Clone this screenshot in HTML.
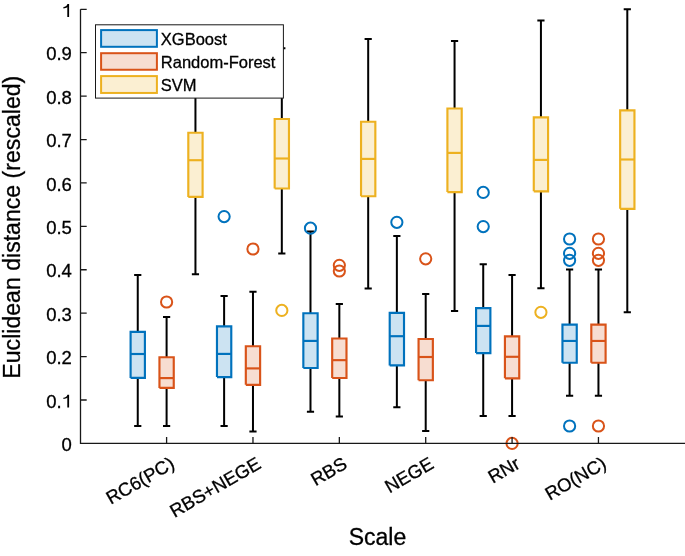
<!DOCTYPE html>
<html><head><meta charset="utf-8"><style>
html,body{margin:0;padding:0;background:#fff;}
body{width:685px;height:556px;overflow:hidden;}
svg{display:block;font-family:"Liberation Sans",sans-serif;will-change:transform;}
text{stroke:#000;stroke-width:0.3px;}
</style></head><body>
<svg width="685" height="556" viewBox="0 0 685 556">
<rect width="685" height="556" fill="#fff"/>
<g stroke="#000" stroke-width="2.0" fill="none"><path d="M137.75 274.9V331.8M137.75 377.9V426M134.15 274.9H141.35M134.15 426H141.35"/><path d="M166.6 317.1V357.2M166.6 387.9V426M163 317.1H170.2M163 426H170.2"/><path d="M195.45 60V132.7M195.45 196.9V274.3M191.85 60H199.05M191.85 274.3H199.05"/><path d="M224.12 296V326.3M224.12 377.1V426M220.52 296H227.72M220.52 426H227.72"/><path d="M252.97 291.8V346.2M252.97 384.8V431.4M249.37 291.8H256.57M249.37 431.4H256.57"/><path d="M281.82 48.3V119M281.82 188.5V253.5M278.22 48.3H285.42M278.22 253.5H285.42"/><path d="M310.49 231.4V313.2M310.49 368V411.8M306.89 231.4H314.09M306.89 411.8H314.09"/><path d="M339.34 304.1V338.5M339.34 378V416.4M335.74 304.1H342.94M335.74 416.4H342.94"/><path d="M368.19 38.9V121.7M368.19 196.2V288.6M364.59 38.9H371.79M364.59 288.6H371.79"/><path d="M396.86 236.1V312.9M396.86 365.4V407.3M393.26 236.1H400.46M393.26 407.3H400.46"/><path d="M425.71 293.9V339M425.71 380.2V431.1M422.11 293.9H429.31M422.11 431.1H429.31"/><path d="M454.56 41V108.5M454.56 192.1V311.1M450.96 41H458.16M450.96 311.1H458.16"/><path d="M483.23 264.3V308.1M483.23 353.1V416M479.63 264.3H486.83M479.63 416H486.83"/><path d="M512.08 274.9V336.3M512.08 378.3V416M508.48 274.9H515.68M508.48 416H515.68"/><path d="M540.93 20.4V117.3M540.93 191.3V288.3M537.33 20.4H544.53M537.33 288.3H544.53"/><path d="M569.6 269.6V324.6M569.6 362.7V395.8M566 269.6H573.2M566 395.8H573.2"/><path d="M598.45 269.6V324.6M598.45 362.7V395.8M594.85 269.6H602.05M594.85 395.8H602.05"/><path d="M627.3 9.3V110.3M627.3 208.8V312.3M623.7 9.3H630.9M623.7 312.3H630.9"/></g>
<g stroke-width="2.15"><rect x="130.6" y="331.8" width="14.3" height="46.1" fill="#CCE3F2"/><path d="M130.6 377.9V331.8H144.9V377.9H130.6" fill="none" stroke="#0072BD"/><path d="M130.6 354H144.9" stroke="#0072BD"/><rect x="159.45" y="357.2" width="14.3" height="30.7" fill="#F7DDD1"/><path d="M159.45 387.9V357.2H173.75V387.9H159.45" fill="none" stroke="#D95319"/><path d="M159.45 378.1H173.75" stroke="#D95319"/><rect x="188.3" y="132.7" width="14.3" height="64.2" fill="#FBEFD2"/><path d="M188.3 196.9V132.7H202.6V196.9H188.3" fill="none" stroke="#EDB120"/><path d="M188.3 160.2H202.6" stroke="#EDB120"/><rect x="216.97" y="326.3" width="14.3" height="50.8" fill="#CCE3F2"/><path d="M216.97 377.1V326.3H231.27V377.1H216.97" fill="none" stroke="#0072BD"/><path d="M216.97 353.9H231.27" stroke="#0072BD"/><rect x="245.82" y="346.2" width="14.3" height="38.6" fill="#F7DDD1"/><path d="M245.82 384.8V346.2H260.12V384.8H245.82" fill="none" stroke="#D95319"/><path d="M245.82 368.4H260.12" stroke="#D95319"/><rect x="274.67" y="119" width="14.3" height="69.5" fill="#FBEFD2"/><path d="M274.67 188.5V119H288.97V188.5H274.67" fill="none" stroke="#EDB120"/><path d="M274.67 158.5H288.97" stroke="#EDB120"/><rect x="303.34" y="313.2" width="14.3" height="54.8" fill="#CCE3F2"/><path d="M303.34 368V313.2H317.64V368H303.34" fill="none" stroke="#0072BD"/><path d="M303.34 340.9H317.64" stroke="#0072BD"/><rect x="332.19" y="338.5" width="14.3" height="39.5" fill="#F7DDD1"/><path d="M332.19 378V338.5H346.49V378H332.19" fill="none" stroke="#D95319"/><path d="M332.19 360.15H346.49" stroke="#D95319"/><rect x="361.04" y="121.7" width="14.3" height="74.5" fill="#FBEFD2"/><path d="M361.04 196.2V121.7H375.34V196.2H361.04" fill="none" stroke="#EDB120"/><path d="M361.04 158.9H375.34" stroke="#EDB120"/><rect x="389.71" y="312.9" width="14.3" height="52.5" fill="#CCE3F2"/><path d="M389.71 365.4V312.9H404.01V365.4H389.71" fill="none" stroke="#0072BD"/><path d="M389.71 336.2H404.01" stroke="#0072BD"/><rect x="418.56" y="339" width="14.3" height="41.2" fill="#F7DDD1"/><path d="M418.56 380.2V339H432.86V380.2H418.56" fill="none" stroke="#D95319"/><path d="M418.56 357H432.86" stroke="#D95319"/><rect x="447.41" y="108.5" width="14.3" height="83.6" fill="#FBEFD2"/><path d="M447.41 192.1V108.5H461.71V192.1H447.41" fill="none" stroke="#EDB120"/><path d="M447.41 152.9H461.71" stroke="#EDB120"/><rect x="476.08" y="308.1" width="14.3" height="45" fill="#CCE3F2"/><path d="M476.08 353.1V308.1H490.38V353.1H476.08" fill="none" stroke="#0072BD"/><path d="M476.08 325.9H490.38" stroke="#0072BD"/><rect x="504.93" y="336.3" width="14.3" height="42" fill="#F7DDD1"/><path d="M504.93 378.3V336.3H519.23V378.3H504.93" fill="none" stroke="#D95319"/><path d="M504.93 356.8H519.23" stroke="#D95319"/><rect x="533.78" y="117.3" width="14.3" height="74" fill="#FBEFD2"/><path d="M533.78 191.3V117.3H548.08V191.3H533.78" fill="none" stroke="#EDB120"/><path d="M533.78 159.9H548.08" stroke="#EDB120"/><rect x="562.45" y="324.6" width="14.3" height="38.1" fill="#CCE3F2"/><path d="M562.45 362.7V324.6H576.75V362.7H562.45" fill="none" stroke="#0072BD"/><path d="M562.45 340.95H576.75" stroke="#0072BD"/><rect x="591.3" y="324.6" width="14.3" height="38.1" fill="#F7DDD1"/><path d="M591.3 362.7V324.6H605.6V362.7H591.3" fill="none" stroke="#D95319"/><path d="M591.3 340.95H605.6" stroke="#D95319"/><rect x="620.15" y="110.3" width="14.3" height="98.5" fill="#FBEFD2"/><path d="M620.15 208.8V110.3H634.45V208.8H620.15" fill="none" stroke="#EDB120"/><path d="M620.15 159.5H634.45" stroke="#EDB120"/></g>
<g fill="none" stroke-width="2.0"><circle cx="166.6" cy="302" r="5.6" stroke="#D95319"/><circle cx="224.12" cy="216.6" r="5.6" stroke="#0072BD"/><circle cx="252.97" cy="249" r="5.6" stroke="#D95319"/><circle cx="281.82" cy="310.4" r="5.6" stroke="#EDB120"/><circle cx="310.49" cy="228.2" r="5.6" stroke="#0072BD"/><circle cx="339.34" cy="265.3" r="5.6" stroke="#D95319"/><circle cx="339.34" cy="271" r="5.6" stroke="#D95319"/><circle cx="396.86" cy="222.3" r="5.6" stroke="#0072BD"/><circle cx="425.71" cy="258.85" r="5.6" stroke="#D95319"/><circle cx="483.23" cy="192.4" r="5.6" stroke="#0072BD"/><circle cx="483.23" cy="226.6" r="5.6" stroke="#0072BD"/><circle cx="512.08" cy="443.4" r="5.6" stroke="#D95319"/><circle cx="540.93" cy="312.3" r="5.6" stroke="#EDB120"/><circle cx="569.6" cy="239" r="5.6" stroke="#0072BD"/><circle cx="569.6" cy="253.3" r="5.6" stroke="#0072BD"/><circle cx="569.6" cy="260.3" r="5.6" stroke="#0072BD"/><circle cx="569.6" cy="426" r="5.6" stroke="#0072BD"/><circle cx="598.45" cy="239" r="5.6" stroke="#D95319"/><circle cx="598.45" cy="253.3" r="5.6" stroke="#D95319"/><circle cx="598.45" cy="260.3" r="5.6" stroke="#D95319"/><circle cx="598.45" cy="426" r="5.6" stroke="#D95319"/></g>
<path d="M80.5 9.3V443.4H685" fill="none" stroke="#181818" stroke-width="1.3"/>
<path d="M80.5 399.99H86.7 M80.5 356.58H86.7 M80.5 313.17H86.7 M80.5 269.76H86.7 M80.5 226.35H86.7 M80.5 182.94H86.7 M80.5 139.53H86.7 M80.5 96.12H86.7 M80.5 52.71H86.7 M80.5 9.3H86.7 M166.6 443.4V437 M252.97 443.4V437 M339.34 443.4V437 M425.71 443.4V437 M512.08 443.4V437 M598.45 443.4V437" fill="none" stroke="#181818" stroke-width="1.3"/>
<g font-size="18.5" fill="#000"><text x="71.9" y="451.1" text-anchor="end">0</text><text x="61.6" y="407.69" text-anchor="end">0.</text><path transform="translate(0 399.99)" d="M69.1 -5.3V7.6H67.3V-2.4C66.4 -1.4 65 -1.0 63.4 -0.9V-2.3C65.6 -2.5 67 -3.6 67.4 -5.3Z"/><text x="71.9" y="364.28" text-anchor="end">0.2</text><text x="71.9" y="320.87" text-anchor="end">0.3</text><text x="71.9" y="277.46" text-anchor="end">0.4</text><text x="71.9" y="234.05" text-anchor="end">0.5</text><text x="71.9" y="190.64" text-anchor="end">0.6</text><text x="71.9" y="147.23" text-anchor="end">0.7</text><text x="71.9" y="103.82" text-anchor="end">0.8</text><text x="71.9" y="60.41" text-anchor="end">0.9</text><path transform="translate(0 9.3)" d="M69.1 -5.3V7.6H67.3V-2.4C66.4 -1.4 65 -1.0 63.4 -0.9V-2.3C65.6 -2.5 67 -3.6 67.4 -5.3Z"/><text transform="translate(169 455.6) rotate(-30)" text-anchor="end" y="13.5">RC6(PC)</text><text transform="translate(255.37 455.6) rotate(-30)" text-anchor="end" y="13.5">RBS+NEGE</text><text transform="translate(341.74 455.6) rotate(-30)" text-anchor="end" y="13.5">RBS</text><text transform="translate(428.11 455.6) rotate(-30)" text-anchor="end" y="13.5">NEGE</text><text transform="translate(514.48 455.6) rotate(-30)" text-anchor="end" y="13.5">RNr</text><text transform="translate(600.85 455.6) rotate(-30)" text-anchor="end" y="13.5">RO(NC)</text></g>
<rect x="95.5" y="24.8" width="187.9" height="73.3" fill="#fff" stroke="#181818" stroke-width="1"/>
<rect x="101.1" y="30.1" width="55.8" height="16.7" fill="#CCE3F2" stroke="#0072BD" stroke-width="2"/>
<rect x="101.1" y="53.2" width="55.8" height="16.55" fill="#F7DDD1" stroke="#D95319" stroke-width="2"/>
<rect x="101.1" y="76.1" width="55.8" height="16.85" fill="#FBEFD2" stroke="#EDB120" stroke-width="2"/>
<g font-size="16.5"><text x="160.8" y="45.1">XGBoost</text><text x="160.8" y="68.3">Random-Forest</text><text x="160.8" y="91">SVM</text></g>
<text x="377.5" y="544.8" font-size="23" text-anchor="middle">Scale</text>
<text transform="translate(19.9 227.2) rotate(-90)" font-size="23.1" text-anchor="middle">Euclidean distance (rescaled)</text>
</svg>
</body></html>
